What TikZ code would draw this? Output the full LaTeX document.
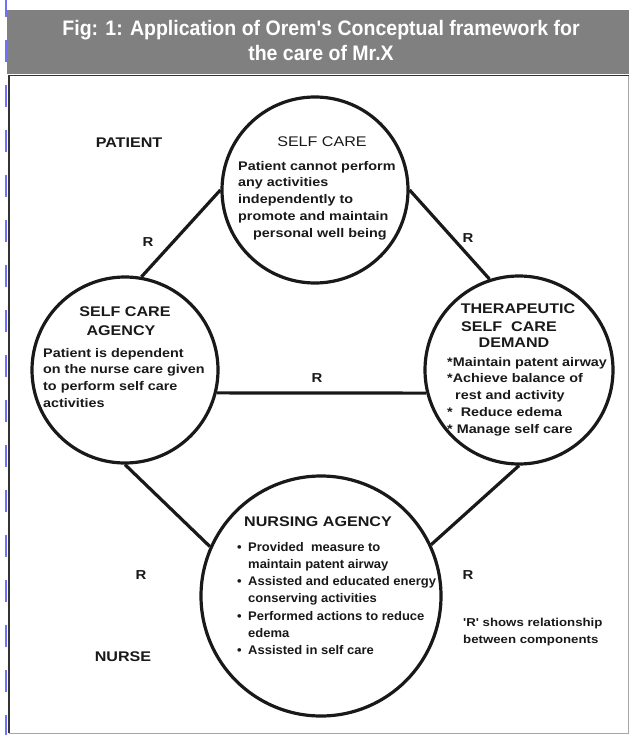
\documentclass[tikz,border=0pt]{standalone}
\usepackage{fontspec}
\setmainfont{Liberation Sans}
\newfontfamily\titlefont[FakeStretch=0.93]{Liberation Sans}
\newfontfamily\wfont[FakeStretch=1.15]{Liberation Sans}
\newfontfamily\nfont[FakeStretch=1.04]{Liberation Sans}
\definecolor{bandgray}{RGB}{128,128,128}
\definecolor{dashblue}{RGB}{112,112,255}
\begin{document}
\begin{tikzpicture}[x=1pt,y=-1pt,
  ring/.style={circle,draw=black!90,line width=3.2pt,inner sep=0pt},
  link/.style={draw=black!90,line width=3.2pt},
  body/.style={anchor=north west,inner sep=0pt,align=left,text=black!90,font=\wfont\bfseries\fontsize{12.5}{16.7}\selectfont},
  head/.style={inner sep=0pt,align=center,text=black!90,font=\wfont\bfseries\fontsize{14}{17}\selectfont},
  lab/.style={inner sep=0pt,text=black!90,font=\wfont\bfseries\fontsize{13}{15}\selectfont},
  titletext/.style={inner sep=0pt,text=white,font=\titlefont\bfseries\fontsize{21}{23}\selectfont}]
\useasboundingbox (0,0) rectangle (629,735);
% frame
\fill[bandgray] (7,10) rectangle (629,74);
\draw[black!80,line width=1.5pt] (9,733) -- (9,75.5) -- (629,75.5);
\draw[black!35,line width=1pt] (9,733.5) -- (628,733.5) -- (628,76);
\foreach \s in {-5,40,...,735}
  \fill[dashblue] (4.5,\s) rectangle (6.5,\s+22);
% title
\node[titletext] (t1) at (321,30) {Fig: 1: Application of Orem's Conceptual framework for};
\node[titletext] (t2) at (321,53) {the care of Mr.X};
% circles
\node[ring,minimum size=186pt] (sc) at (315,190) {};
\node[ring,minimum size=186pt] (sca) at (125,370) {};
\node[ring,minimum size=188pt] (tsd) at (519,370) {};
\node[ring,minimum size=240pt] (na) at (321,596) {};
% connectors
\draw[link] (sc.west) -- (sca.80);
\draw[link] (sc.east) -- (tsd.108);
\draw[link] (sca.-14) -- (tsd.194);
\draw[link] (sca.south) -- (na.156);
\draw[link] (tsd.south) -- (na.25);
% self care
\node[head,font=\wfont\fontsize{14}{17}\selectfont] (sch) at (322,141.5) {SELF CARE};
\node[body] (scb) at (238,161) {Patient cannot perform\\any activities\\independently to\\promote and maintain\\\hspace*{15pt}personal well being};
% self care agency
\node[head] (scah1) at (125,312) {SELF CARE};
\node[head] (scah2) at (121,331) {AGENCY};
\node[body] (scab) at (43,348) {Patient is dependent\\on the nurse care given\\to perform self care\\activities};
% therapeutic
\node[head] (tsdh1) at (518,309) {THERAPEUTIC};
\node[head] (tsdh2) at (509,327) {SELF\ \ CARE};
\node[head] (tsdh3) at (514,343) {DEMAND};
\node[body] (tsdb) at (447,357) {*Maintain patent airway\\*Achieve balance of\\\hspace*{8pt}rest and activity\\*\ \ Reduce edema\\* Manage self care};
% nursing agency
\node[head] (nah) at (318,522) {NURSING AGENCY};
\node[body,font=\nfont\bfseries\fontsize{12.5}{17.2}\selectfont] (nab) at (237,542) {\makebox[11pt][l]{\textbullet}Provided\ \ measure to\\\hspace*{11pt}maintain patent airway\\\makebox[11pt][l]{\textbullet}Assisted and educated energy\\\hspace*{11pt}conserving activities\\\makebox[11pt][l]{\textbullet}Performed actions to reduce\\\hspace*{11pt}edema\\\makebox[11pt][l]{\textbullet}Assisted in self care};
% labels
\node[lab,font=\wfont\bfseries\fontsize{14}{16}\selectfont] (pat) at (129,143) {PATIENT};
\node[lab,font=\wfont\bfseries\fontsize{14}{16}\selectfont] (nur) at (123,657) {NURSE};
\node[lab] (r1) at (148,242) {R};
\node[lab] (r2) at (468,238) {R};
\node[lab] (r3) at (317,378) {R};
\node[lab] (r4) at (141,575) {R};
\node[lab] (r5) at (468,575) {R};
\node[body,font=\wfont\bfseries\fontsize{11.5}{16.5}\selectfont] (note) at (463,618) {'R' shows relationship\\between components};
\end{tikzpicture}
\end{document}
